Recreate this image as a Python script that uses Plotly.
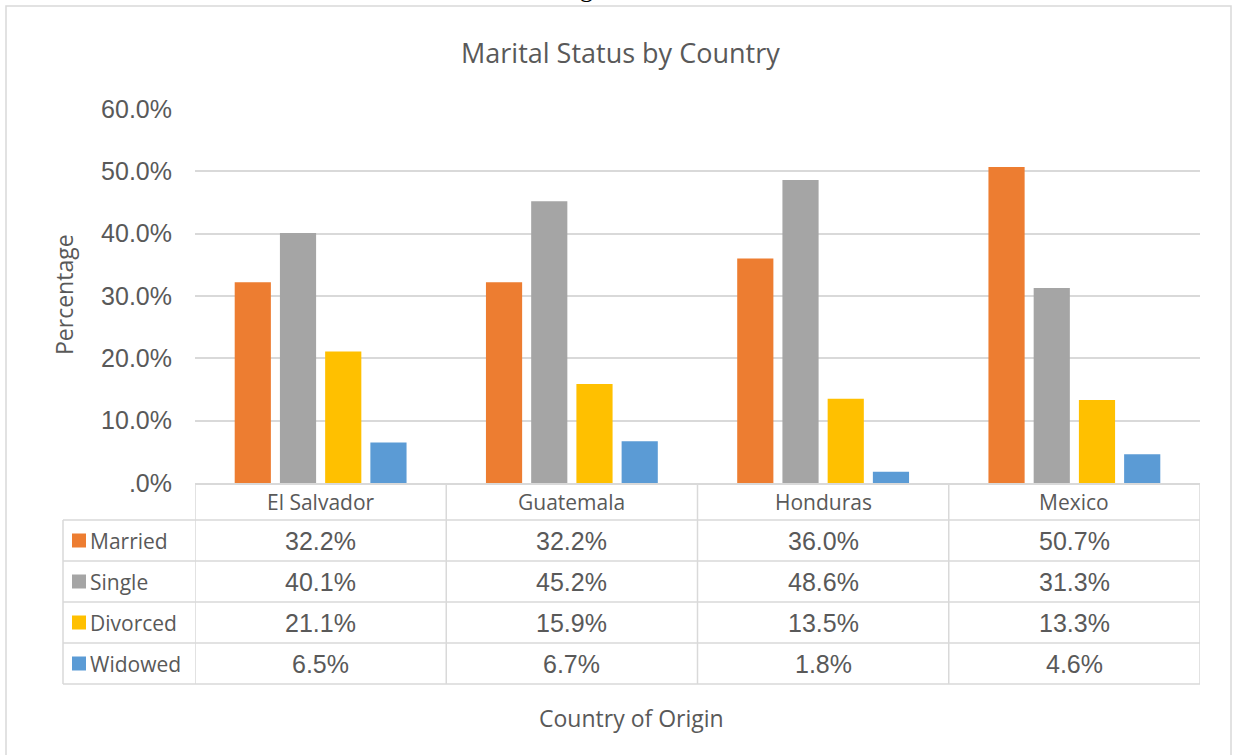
import plotly.graph_objects as go

countries = ["El Salvador", "Guatemala", "Honduras", "Mexico"]
statuses = ["Married", "Single", "Divorced", "Widowed"]
married = [32.2, 32.2, 36.0, 50.7]
single = [40.1, 45.2, 48.6, 31.3]
divorced = [21.1, 15.9, 13.5, 13.3]
widowed = [6.5, 6.7, 1.8, 4.6]
ytick_vals = [0, 10, 20, 30, 40, 50, 60]
ytick_text = [".0%", "10.0%", "20.0%", "30.0%", "40.0%", "50.0%", "60.0%"]

colors = ["#ED7D31", "#A5A5A5", "#FFC000", "#5B9BD5"]
series = [married, single, divorced, widowed]
txt = "#595959"
grid = "#D9D9D9"

W, H = 1236, 755
ML, MR, MT, MB = 195, 36, 109, 272
PW, PH = W - ML - MR, H - MT - MB


def px(x):
    return (x - ML) / PW


def py(y):
    return (H - MB - y) / PH


fig = go.Figure()
for name, vals, col in zip(statuses, series, colors):
    fig.add_trace(go.Bar(x=countries, y=vals, name=name, marker=dict(color=col, line=dict(width=0))))

shapes = []
annotations = []

# outer chart border
shapes.append(dict(type="rect", xref="paper", yref="paper", x0=px(6), x1=px(1231), y0=py(770), y1=py(6),
                   line=dict(color=grid, width=1.5)))

# table lines
row_y = [483, 520, 561, 602, 643, 684]
for y in row_y[1:]:
    shapes.append(dict(type="line", xref="paper", yref="paper", x0=px(63), x1=px(1200), y0=py(y), y1=py(y),
                       line=dict(color=grid, width=1.5)))
shapes.append(dict(type="line", xref="paper", yref="paper", x0=px(63), x1=px(63), y0=py(520), y1=py(684),
                   line=dict(color=grid, width=1.5)))
for k in range(len(countries) + 1):
    shapes.append(dict(type="line", xref="x", yref="paper", x0=k - 0.5, x1=k - 0.5, y0=py(483), y1=py(684),
                       line=dict(color=grid, width=1.5)))

# header row: country names
for c in countries:
    annotations.append(dict(x=c, y=py(501.5), xref="x", yref="paper", text=c, showarrow=False,
                            yanchor="middle", font=dict(family="Open Sans", size=21, color=txt)))

# value rows with legend keys
for r, (name, vals, col) in enumerate(zip(statuses, series, colors)):
    yc = (row_y[r + 1] + row_y[r + 2]) / 2
    shapes.append(dict(type="rect", xref="paper", yref="paper", x0=px(72), x1=px(86), y0=py(yc - 7), y1=py(yc + 7),
                       fillcolor=col, line=dict(width=0)))
    annotations.append(dict(x=px(88), y=py(yc), xref="paper", yref="paper", text=name, showarrow=False,
                            xanchor="left", yanchor="middle", font=dict(family="Open Sans", size=21, color=txt)))
    for c, v in zip(countries, vals):
        annotations.append(dict(x=c, y=py(yc), xref="x", yref="paper", text=f"{v:.1f}%", showarrow=False,
                                yanchor="middle",
                                font=dict(family="Liberation Sans, Arial", size=25, color=txt)))

# title and axis titles
annotations.append(dict(x=px(620), y=py(52), xref="paper", yref="paper", text="Marital Status by Country",
                        showarrow=False, yanchor="middle", font=dict(family="Open Sans", size=27, color=txt)))
annotations.append(dict(x=px(631), y=py(718), xref="paper", yref="paper", text="Country of Origin",
                        showarrow=False, yanchor="middle", font=dict(family="Open Sans", size=23, color=txt)))
annotations.append(dict(x=px(64), y=py(295), xref="paper", yref="paper", text="Percentage", textangle=-90,
                        showarrow=False, xanchor="center", yanchor="middle",
                        font=dict(family="Open Sans", size=23, color=txt)))
# clipped caption fragment from the page above
annotations.append(dict(x=px(586), y=py(-12), xref="paper", yref="paper", text="g", showarrow=False,
                        yanchor="middle", font=dict(family="Liberation Serif", size=26, color="#000000")))

fig.update_layout(
    width=W, height=H,
    margin=dict(l=ML, r=MR, t=MT, b=MB),
    paper_bgcolor="white", plot_bgcolor="white",
    barmode="group", bargap=0.28, bargroupgap=0.2,
    showlegend=False,
    xaxis=dict(showticklabels=False, showgrid=False, showline=True, linecolor=grid, linewidth=1.5,
               range=[-0.5, 3.5], fixedrange=True),
    yaxis=dict(range=[0, 60], tickvals=ytick_vals, ticktext=ytick_text, showgrid=True, gridcolor=grid,
               gridwidth=1.5, zeroline=False, showline=False, ticklabelstandoff=22,
               tickfont=dict(family="Liberation Sans, Arial", size=25, color=txt)),
    shapes=shapes,
    annotations=annotations,
)

fig.write_html("out.html", config={"displayModeBar": False},
               post_script="document.body.style.margin='0';")
